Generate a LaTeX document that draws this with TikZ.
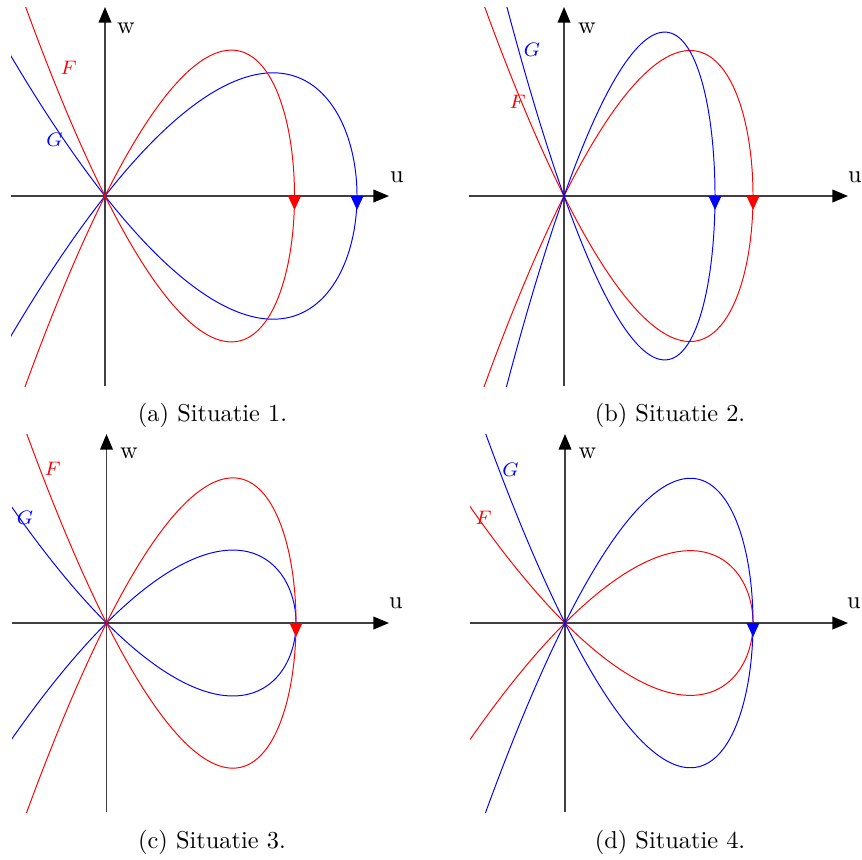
\documentclass[tikz,border=0pt]{standalone}
\usepackage{fontspec}
\usetikzlibrary{arrows.meta}
\tikzset{
  axis/.style={black!75, line width=0.6pt, -{Triangle[length=6.4pt,width=5.2pt,color=black]}},
  Fcurve/.style={red, line width=0.4pt},
  Gcurve/.style={blue, line width=0.4pt},
  lbl/.style={inner sep=0pt, font=\footnotesize},
  axlbl/.style={inner sep=0pt},
  captext/.style={inner sep=0pt}
}
% #1 style, #2 X0, #3 Y0, #4 a, #5 slope m
\newcommand\loopcurve[5]{%
  \draw[#1, domain=-1.5:1.5, samples=300, smooth, variable=\t]
    plot ({#2 + #4*(1-\t*\t)}, {#3 - #5*#4*\t*(1-\t*\t)});}
\newcommand\flowtip[2]{%
  \fill[#1, shift={(#2)}] (-6.5,0) -- (6.5,0) -- (0,14) -- cycle;}
\begin{document}
\begin{tikzpicture}[x=0.41pt, y=-0.41pt]
\useasboundingbox (0,0) rectangle (862,859);

% ---------- panel (a) ----------
\draw[axis] (11,196) -- (389,196);
\draw[axis] (105,386) -- (105,7);
\begin{scope}
  \clip (11,7) rectangle (400,386);
  \loopcurve{Gcurve}{105}{196}{252}{1.27}
  \loopcurve{Fcurve}{105}{196}{189.5}{2.0}
\end{scope}
\coordinate (ra) at (294.5,196);
\coordinate (ba) at (357,196);
\flowtip{red}{ra}
\flowtip{blue}{ba}
\node[axlbl] (wa) at (126,28) {w};
\node[axlbl] (ua) at (397,177.5) {u};
\node[lbl, red] (Fa) at (68.5,68) {$F$};
\node[lbl, blue] (Ga) at (54.5,139.5) {$G$};
\node[captext] (capa) at (212.5,415.5) {(a) Situatie 1.};

% ---------- panel (b) ----------
\draw[axis] (469,196) -- (848,196);
\draw[axis] (564,386) -- (564,7);
\begin{scope}
  \clip (469,7) rectangle (860,386);
  \loopcurve{Fcurve}{564}{196}{189}{2.0}
  \loopcurve{Gcurve}{564}{196}{151}{2.82}
\end{scope}
\coordinate (rb) at (753,196);
\coordinate (bb) at (715,196);
\flowtip{red}{rb}
\flowtip{blue}{bb}
\node[axlbl] (wb) at (587,28) {w};
\node[axlbl] (ub) at (855,177.5) {u};
\node[lbl, red] (Fb) at (517.5,101.5) {$F$};
\node[lbl, blue] (Gb) at (532,49.5) {$G$};
\node[captext] (capb) at (670,415.5) {(b) Situatie 2.};

% ---------- panel (c) ----------
\draw[axis] (12,623) -- (389,623);
\draw[axis] (106.5,812) -- (106.5,434);
\begin{scope}
  \clip (12,434) rectangle (400,812);
  \loopcurve{Gcurve}{106.5}{623}{189.5}{1.0}
  \loopcurve{Fcurve}{106.5}{623}{189.5}{1.99}
\end{scope}
\coordinate (rc) at (296,623);
\flowtip{red}{rc}
\node[axlbl] (wc) at (129,453) {w};
\node[axlbl] (uc) at (396,603.5) {u};
\node[lbl, red] (Fc) at (52.5,469) {$F$};
\node[lbl, blue] (Gc) at (25,518) {$G$};
\node[captext] (capc) at (212,842.5) {(c) Situatie 3.};

% ---------- panel (d) ----------
\draw[axis] (470,623) -- (848,623);
\draw[axis] (565,812) -- (565,434);
\begin{scope}
  \clip (470,434) rectangle (860,812);
  \loopcurve{Fcurve}{565}{623}{188}{1.0}
  \loopcurve{Gcurve}{565}{623}{188}{2.0}
\end{scope}
\coordinate (bd) at (753,623);
\flowtip{blue}{bd}
\node[axlbl] (wd) at (587.5,453) {w};
\node[axlbl] (ud) at (854,603.5) {u};
\node[lbl, red] (Fd) at (483.5,517.5) {$F$};
\node[lbl, blue] (Gd) at (510.5,469.5) {$G$};
\node[captext] (capd) at (670,842.5) {(d) Situatie 4.};
\end{tikzpicture}
\end{document}
